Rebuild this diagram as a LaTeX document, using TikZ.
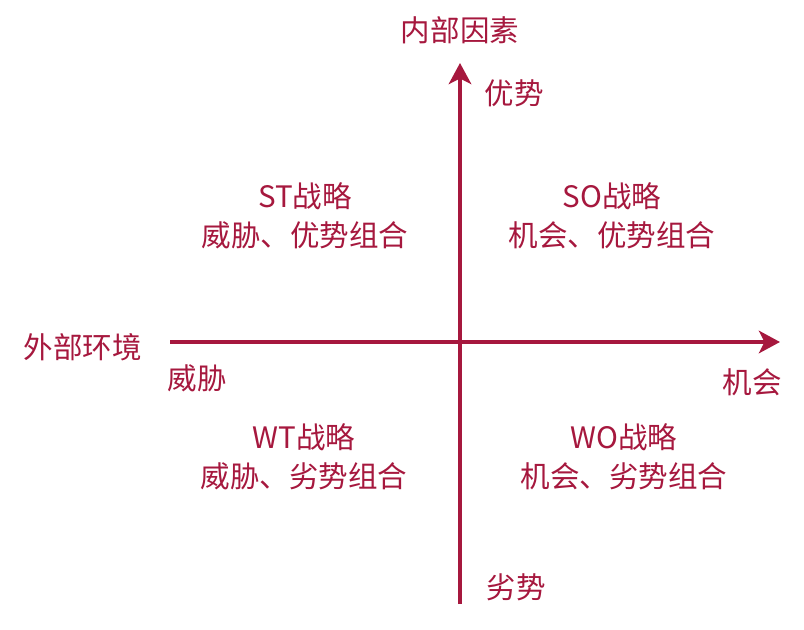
\documentclass[tikz,border=0pt]{standalone}
\usepackage{fontspec}
\setmainfont{Noto Sans CJK SC}
\usepackage{tikz}
\usetikzlibrary{arrows.meta, positioning}
\definecolor{swotred}{RGB}{166,24,62}

\begin{document}
\begin{tikzpicture}[
  x=0.025cm, y=-0.025cm,
  every node/.style = {font=\fontsize{21}{28}\selectfont, text=swotred},
  quad/.style = {align=center, inner sep=0pt},
  lbl/.style  = {inner sep=0pt},
  axis/.style = {-{Stealth[length=15pt, width=16pt, inset=4pt]},
                 line width=2.8pt, draw=swotred}
]
\useasboundingbox (0,0) rectangle (804,630);

%% ── Axis end points ───────────────────────────────────────────────────────
\coordinate (west)  at (170, 342);
\coordinate (east)  at (780, 342);
\coordinate (south) at (460, 604);
\coordinate (north) at (460,  63);

%% ── Axis labels ───────────────────────────────────────────────────────────
\node[lbl] (inner)  at (460,  30) {内部因素};
\node[lbl] (outer)  at ( 83, 347) {外部环境};
\node[lbl] (strong) at (514,  93) {优势};
\node[lbl] (weak)   at (516, 587) {劣势};
\node[lbl] (threat) at (197, 378) {威胁};
\node[lbl] (chance) at (752, 382) {机会};

%% ── Quadrants ─────────────────────────────────────────────────────────────
\node[quad] (st) at (305, 216) {ST战略\\威胁、优势组合};
\node[quad] (so) at (612, 216) {SO战略\\机会、优势组合};
\node[quad] (wt) at (304, 457) {WT战略\\威胁、劣势组合};
\node[quad] (wo) at (624, 457) {WO战略\\机会、劣势组合};

%% ── Axes ──────────────────────────────────────────────────────────────────
\draw[axis] (west)  -- (east);
\draw[axis] (south) -- (north);

\end{tikzpicture}
\end{document}
